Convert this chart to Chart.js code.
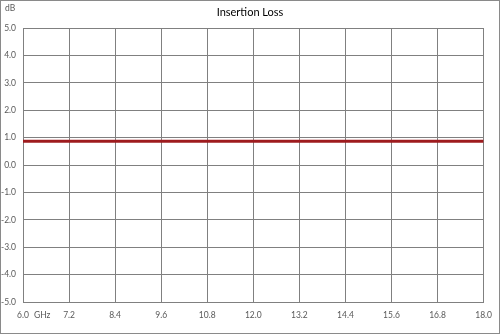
<!DOCTYPE html>
<html>
<head>
<meta charset="utf-8">
<script src="https://cdn.jsdelivr.net/npm/chart.js@4"></script>
<style>
  html, body { margin: 0; padding: 0; background: #fff; }
  #wrap { width: 500px; height: 334px; }
</style>
</head>
<body>
<div id="wrap"><canvas id="chartCanvas" width="500" height="334"></canvas></div>
<script>
const freqs = [6.0, 7.2, 8.4, 9.6, 10.8, 12.0, 13.2, 14.4, 15.6, 16.8, 18.0]
const lossValues = [0.87, 0.87, 0.87, 0.87, 0.87, 0.87, 0.87, 0.87, 0.87, 0.87, 0.87]
const xTicks = [6.0, 7.2, 8.4, 9.6, 10.8, 12.0, 13.2, 14.4, 15.6, 16.8, 18.0]
const yTicks = [-5, -4, -3, -2, -1, 0, 1, 2, 3, 4, 5]

const labelFont = { family: "Lato, 'Open Sans', sans-serif", size: 8.5 }
const labelColor = "#595959"
const gridColor = "#808080"

const extras = {
    id: "extras",
    afterDraw(chart){
        const ctx = chart.ctx
        ctx.save()
        ctx.fillStyle = "#000"
        ctx.font = "11px Lato, 'Open Sans', sans-serif"
        ctx.textAlign = "center"
        ctx.textBaseline = "middle"
        ctx.fillText("Insertion Loss", 250, 12)

        ctx.fillStyle = labelColor
        ctx.font = "8.5px Lato, 'Open Sans', sans-serif"
        ctx.textAlign = "left"
        ctx.fillText("dB", 5, 8)
        ctx.fillText("GHz", 34, 315)

        ctx.strokeStyle = "#8a8a8a"
        ctx.lineWidth = 1
        ctx.strokeRect(0.5, 0.5, 499, 333)
        ctx.restore()
    }
}

new Chart(document.getElementById("chartCanvas"), {
    type: "line",
    data: {
        datasets: [{
            label: "Insertion Loss",
            data: freqs.map((f, i) => ({ x: f, y: lossValues[i] })),
            borderColor: "#9e1b1e",
            borderWidth: 3,
            pointRadius: 0,
            tension: 0
        }]
    },
    options: {
        responsive: false,
        animation: false,
        layout: { padding: { left: 0, right: 16, top: 28, bottom: 0 } },
        plugins: {
            legend: { display: false },
            title: { display: false },
            tooltip: { enabled: false }
        },
        scales: {
            x: {
                type: "linear",
                min: 6,
                max: 18,
                afterBuildTicks(axis){ axis.ticks = xTicks.map(v => ({ value: v })) },
                afterFit(axis){ axis.height = 32 },
                grid: { color: gridColor, drawTicks: false },
                border: { color: gridColor },
                ticks: {
                    padding: 8,
                    color: labelColor,
                    font: labelFont,
                    maxRotation: 0,
                    autoSkip: false,
                    callback: v => v.toFixed(1)
                }
            },
            y: {
                min: -5,
                max: 5,
                afterBuildTicks(axis){ axis.ticks = yTicks.map(v => ({ value: v })) },
                afterFit(axis){ axis.width = 23 },
                grid: { color: gridColor, drawTicks: false },
                border: { color: gridColor },
                ticks: {
                    padding: 7,
                    color: labelColor,
                    font: labelFont,
                    callback: v => v.toFixed(1)
                }
            }
        }
    },
    plugins: [extras]
})
</script>
</body>
</html>
